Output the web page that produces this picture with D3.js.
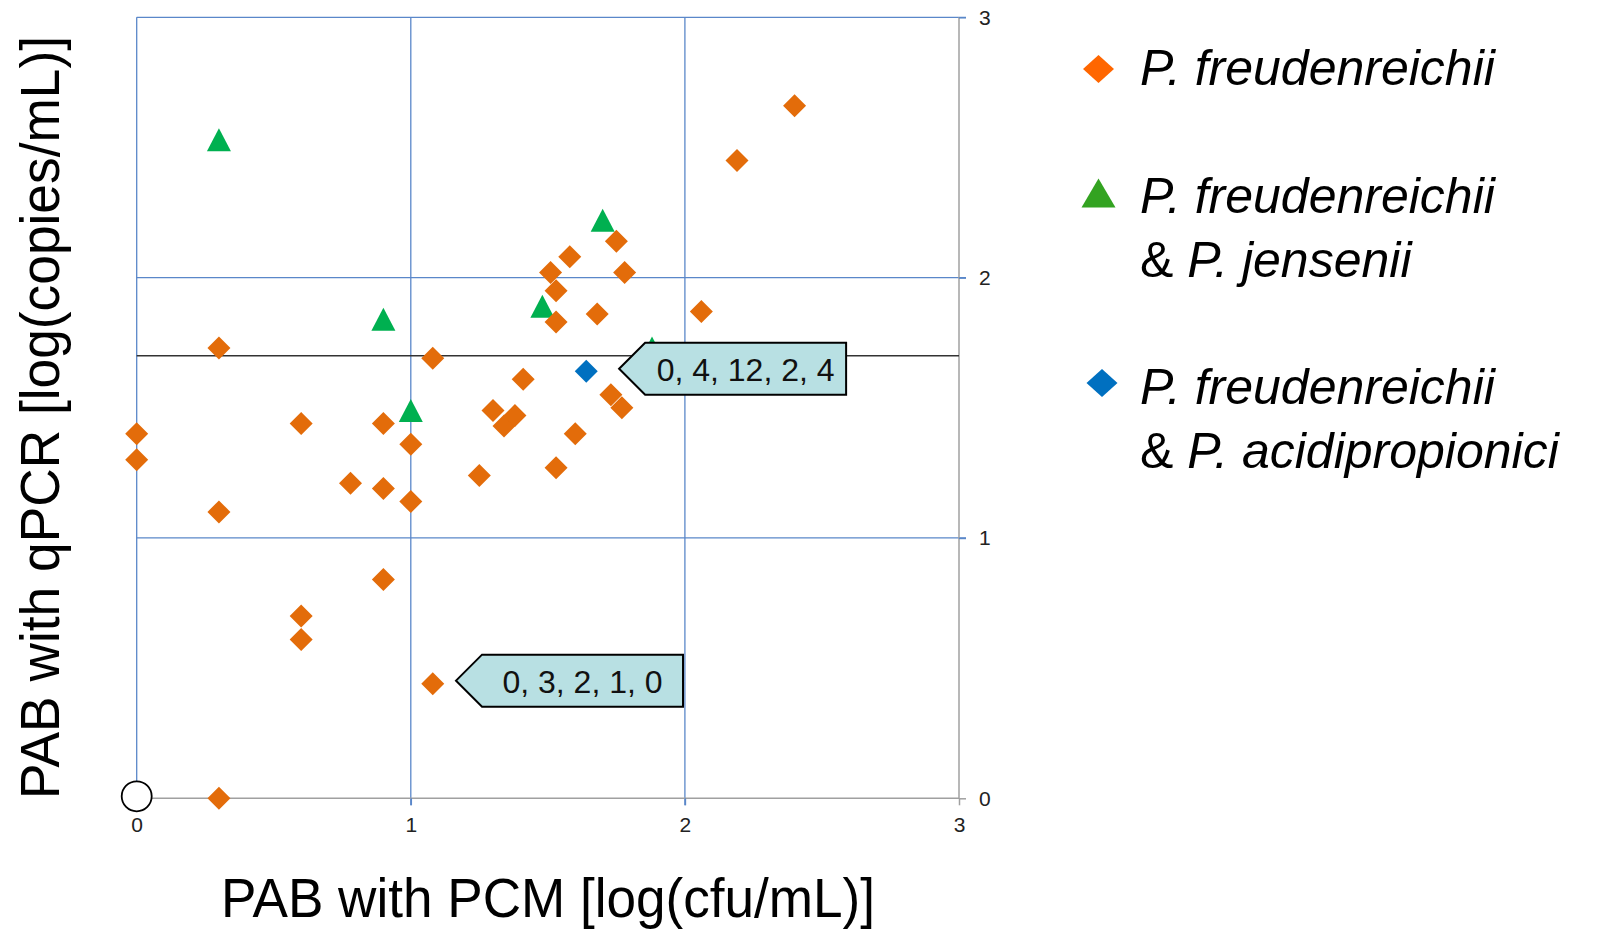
<!DOCTYPE html>
<meta charset="utf-8">
<style>
body { margin: 0; background: #fff; }
text { font-family: "Liberation Sans", Arial, sans-serif; }
.tick text { font-size: 21px; fill: #222; }
</style>
<svg width="1610" height="930"></svg>
<script src="https://d3js.org/d3.v7.min.js"></script>
<script>

// P. freudenreichii only  [PCM, qPCR]
var freudData = [
  [0, 1.40], [0, 1.30], [0.30, 1.73], [0.30, 1.10], [0.30, 0],
  [0.60, 1.44], [0.60, 0.70], [0.60, 0.61], [0.78, 1.21], [0.90, 1.44],
  [0.90, 1.19], [0.90, 0.84], [1.00, 1.36], [1.00, 1.14], [1.08, 1.69],
  [1.08, 0.44], [1.25, 1.24], [1.30, 1.49], [1.34, 1.43], [1.38, 1.47],
  [1.41, 1.61], [1.51, 2.02], [1.53, 1.95], [1.53, 1.83], [1.53, 1.27],
  [1.58, 2.08], [1.60, 1.40], [1.68, 1.86], [1.73, 1.55], [1.77, 1.50],
  [1.75, 2.14], [1.78, 2.02], [2.06, 1.87], [2.19, 2.45], [2.40, 2.66]
];
// P. freudenreichii & P. jensenii
var jensData = [[0.30, 2.53], [0.90, 1.84], [1.00, 1.49], [1.48, 1.89], [1.70, 2.22], [1.88, 1.73]];
// P. freudenreichii & P. acidipropionici
var acidiData = [[1.64, 1.64]];
// sample at the origin (open circle)
var originData = [[0, 0]];

var xTicks = [0, 1, 2, 3],
    yTicks = [0, 1, 2, 3];
var refLine = 1.70;

var callouts = [
  {x: 1.76, y: 1.65, text: "0, 4, 12, 2, 4"},
  {x: 1.165, y: 0.452, text: "0, 3, 2, 1, 0"}
];

var legendItems = [
  {shape: "diamond", color: "#ff6600", lines: [["P. freudenreichii"]]},
  {shape: "triangle", color: "#33a321", lines: [["P. freudenreichii"], ["& ", "P. jensenii"]]},
  {shape: "diamond", color: "#0070c0", lines: [["P. freudenreichii"], ["& ", "P. acidipropionici"]]}
];

var svg = d3.select("svg");

var x = d3.scaleLinear().domain([0, 3]).range([136.7, 959]);
var y = d3.scaleLinear().domain([0, 3]).range([798.3, 17.3]);

var grid = "#5a87c9", axisGray = "#a0a0a0";

// gridlines
svg.append("g").selectAll("line").data([0, 1, 2])
  .enter().append("line")
    .attr("x1", function(d) { return x(d); }).attr("x2", function(d) { return x(d); })
    .attr("y1", y(3)).attr("y2", y(0) + 7)
    .attr("stroke", grid).attr("stroke-width", 1.3);
svg.append("g").selectAll("line").data([1, 2, 3])
  .enter().append("line")
    .attr("x1", x(0)).attr("x2", x(3) + 7)
    .attr("y1", function(d) { return y(d); }).attr("y2", function(d) { return y(d); })
    .attr("stroke", grid).attr("stroke-width", 1.3);

// axes (bottom + right)
var xAxis = svg.append("g")
    .attr("class", "x axis")
    .attr("transform", "translate(0," + y(0) + ")")
    .call(d3.axisBottom(x).tickValues(xTicks).tickSize(7).tickPadding(12).tickFormat(d3.format("d")));
var yAxis = svg.append("g")
    .attr("class", "y axis")
    .attr("transform", "translate(" + x(3) + ",0)")
    .call(d3.axisRight(y).tickValues(yTicks).tickSize(7).tickPadding(13).tickFormat(d3.format("d")));
svg.selectAll(".axis path").attr("stroke", axisGray).attr("stroke-width", 1.5);
svg.selectAll(".axis line").attr("stroke", axisGray).attr("stroke-width", 1.5);
xAxis.selectAll(".tick line").filter(function(d) { return d === 1 || d === 2; }).attr("stroke", grid);
xAxis.select(".domain").attr("d", "M" + x(0) + ",0H" + x(3));
yAxis.select(".domain").attr("d", "M0," + y(3) + "V" + y(0));
yAxis.selectAll(".tick line").filter(function(d) { return d > 0; }).attr("stroke", grid);

// horizontal reference line
svg.append("line")
    .attr("x1", x(0)).attr("x2", x(3))
    .attr("y1", y(refLine)).attr("y2", y(refLine))
    .attr("stroke", "#333").attr("stroke-width", 1.4);

function diamond(w, h) {
  return "M0," + (-h / 2) + "L" + (w / 2) + ",0L0," + (h / 2) + "L" + (-w / 2) + ",0Z";
}
function triangle(w, h) {
  return "M0," + (-h / 2) + "L" + (w / 2) + "," + (h / 2) + "L" + (-w / 2) + "," + (h / 2) + "Z";
}

var pts = svg.append("g");
pts.selectAll(".jens").data(jensData).enter().append("path")
    .attr("d", triangle(24, 23))
    .attr("fill", "#00b050")
    .attr("transform", function(d) { return "translate(" + x(d[0]) + "," + y(d[1]) + ")"; });
pts.selectAll(".freud").data(freudData).enter().append("path")
    .attr("d", diamond(23, 23))
    .attr("fill", "#e36c0a")
    .attr("transform", function(d) { return "translate(" + x(d[0]) + "," + y(d[1]) + ")"; });
pts.selectAll(".acidi").data(acidiData).enter().append("path")
    .attr("d", diamond(23, 23))
    .attr("fill", "#0070c0")
    .attr("transform", function(d) { return "translate(" + x(d[0]) + "," + y(d[1]) + ")"; });
pts.selectAll("circle").data(originData).enter().append("circle")
    .attr("cx", function(d) { return x(d[0]); })
    .attr("cy", function(d) { return y(d[1]) - 2; })
    .attr("r", 15)
    .attr("fill", "#fff").attr("stroke", "#000").attr("stroke-width", 1.8);

// callouts
var cw = 201, ch = 52, arrow = 26;
var co = svg.append("g").selectAll("g").data(callouts).enter().append("g")
    .attr("transform", function(d) { return "translate(" + x(d.x) + "," + y(d.y) + ")"; });
co.append("path")
    .attr("d", "M0,0L" + arrow + "," + (-ch / 2) + "H" + (arrow + cw) + "V" + (ch / 2) + "H" + arrow + "Z")
    .attr("fill", "#b8e0e3").attr("stroke", "#000").attr("stroke-width", 2);
co.append("text")
    .attr("x", arrow + cw / 2).attr("y", 12)
    .attr("text-anchor", "middle")
    .style("font-size", "32px").attr("fill", "#111")
    .text(function(d) { return d.text; });

// axis titles
svg.append("text")
    .attr("x", 548).attr("y", 917)
    .attr("text-anchor", "middle")
    .attr("textLength", 654).attr("lengthAdjust", "spacingAndGlyphs")
    .style("font-size", "55px")
    .text("PAB with PCM [log(cfu/mL)]");
svg.append("text")
    .attr("transform", "translate(59,417.5) rotate(-90)")
    .attr("text-anchor", "middle")
    .attr("textLength", 763).attr("lengthAdjust", "spacingAndGlyphs")
    .style("font-size", "55px")
    .text("PAB with qPCR [log(copies/mL)]");

// legend
var legendY = [69, 193, 383];
var legendBase = [[85], [212.7, 276.7], [404, 468.3]];
var lg = svg.append("g");
legendItems.forEach(function(item, i) {
  lg.append("path")
    .attr("d", item.shape === "diamond" ? diamond(31, 28) : triangle(34, 29))
    .attr("fill", item.color)
    .attr("transform", "translate(" + (i === 2 ? 1102 : 1098.5) + "," + legendY[i] + ")");
  item.lines.forEach(function(parts, j) {
    var t = lg.append("text")
      .attr("x", 1140).attr("y", legendBase[i][j])
      .style("font-size", "50px");
    parts.forEach(function(p) {
      t.append("tspan")
        .style("font-style", p === "& " ? "normal" : "italic")
        .text(p);
    });
  });
});

</script>
